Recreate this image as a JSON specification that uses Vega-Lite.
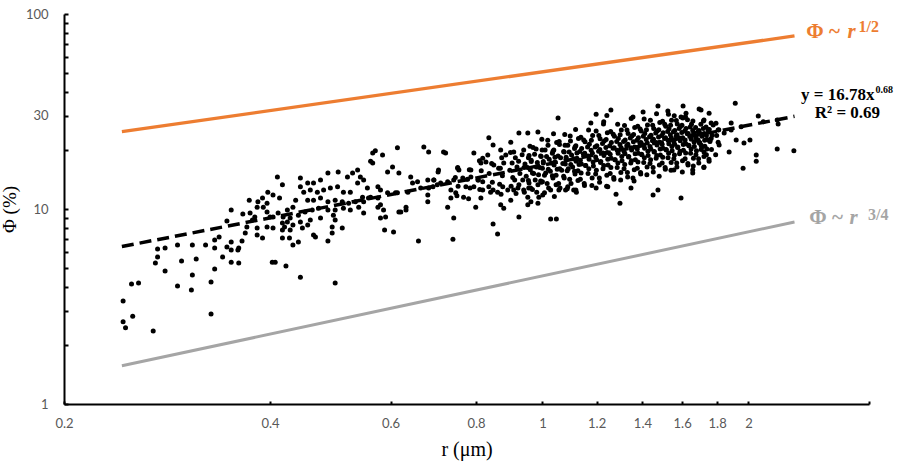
{
  "$schema": "https://vega.github.io/schema/vega-lite/v6.json",
  "width": 805,
  "height": 390,
  "autosize": {"type": "none"},
  "padding": {"left": 64, "top": 14, "right": 31, "bottom": 61},
  "background": "white",
  "config": {"view": {"stroke": null}},
  "encoding": {
    "x": {
      "field": "r", "type": "quantitative",
      "scale": {"type": "log", "domain": [0.2, 3]},
      "axis": {
        "values": [0.2, 0.4, 0.6, 0.8, 1, 1.2, 1.4, 1.6, 1.8, 2, 3],
        "labelExpr": "datum.value == 3 ? '' : datum.label",
        "format": "~g",
        "title": "r (μm)",
        "titleFont": "Liberation Serif", "titleFontSize": 20, "titleFontWeight": "normal", "titleColor": "black", "titlePadding": 9,
        "labelFont": "Lato", "labelFontSize": 13, "labelColor": "#595959", "labelPadding": 16,
        "labelFlush": false, "labelOverlap": false,
        "tickSize": -3, "tickWidth": 2, "tickColor": "black",
        "domainColor": "black", "domainWidth": 2, "grid": false
      }
    },
    "y": {
      "field": "phi", "type": "quantitative",
      "scale": {"type": "log", "domain": [1, 100]},
      "axis": {
        "values": [1, 2, 3, 4, 5, 6, 7, 8, 9, 10, 20, 30, 40, 50, 60, 70, 80, 90, 100],
        "labelExpr": "(datum.value == 1 || datum.value == 10 || datum.value == 30 || datum.value == 100) ? datum.label : ''",
        "format": "~g",
        "title": "Φ (%)",
        "titleFont": "Liberation Serif", "titleFontSize": 19, "titleFontWeight": "normal", "titleColor": "black", "titlePadding": 6,
        "labelFont": "Lato", "labelFontSize": 13, "labelColor": "#595959", "labelPadding": 20,
        "labelFlush": false, "labelOverlap": false,
        "tickSize": -4, "tickWidth": 2, "tickColor": "black",
        "domainColor": "black", "domainWidth": 2, "grid": false
      }
    }
  },
  "layer": [
    {
      "data": {"values": [
        {"r":0.243,"phi":24.9},{"r":2.335,"phi":77.2}
      ]},
      "mark": {"type": "line", "color": "#ED7D31", "strokeWidth": 3.3},
      "encoding": {}
    },
    {
      "data": {"values": [
        {"r":0.243,"phi":1.57},{"r":2.335,"phi":8.57}
      ]},
      "mark": {"type": "line", "color": "#A5A5A5", "strokeWidth": 3},
      "encoding": {}
    },
    {
      "data": {"values": [
{"r":0.244,"phi":3.37},{"r":0.244,"phi":2.64},{"r":0.246,"phi":2.46},{"r":0.252,"phi":2.82},{"r":0.251,"phi":4.12},{"r":0.257,"phi":4.17},{"r":0.270,"phi":2.37},{"r":0.272,"phi":5.28},{"r":0.274,"phi":5.67},{"r":0.274,"phi":6.23},{"r":0.281,"phi":6.31},{"r":0.281,"phi":4.81},{"r":0.293,"phi":6.53},{"r":0.293,"phi":4.03},{"r":0.297,"phi":5.41},{"r":0.308,"phi":6.53},{"r":0.308,"phi":4.59},{"r":0.307,"phi":3.84},{"r":0.312,"phi":5.54},{"r":0.322,"phi":6.53},{"r":0.328,"phi":4.22},{"r":0.328,"phi":2.89},{"r":0.332,"phi":4.93},{"r":0.332,"phi":6.31},{"r":0.332,"phi":6.93},{"r":0.337,"phi":7.18},{"r":0.341,"phi":5.67},{"r":0.346,"phi":6.39},{"r":0.346,"phi":8.68},{"r":0.351,"phi":9.88},{"r":0.351,"phi":6.77},{"r":0.351,"phi":5.34},{"r":0.351,"phi":6.16},{"r":0.359,"phi":6.16},{"r":0.360,"phi":5.28},{"r":0.360,"phi":6.31},{"r":0.364,"phi":6.85},{"r":0.368,"phi":7.53},{"r":0.373,"phi":11.1},{"r":0.370,"phi":8.08},{"r":0.365,"phi":9.42},{"r":0.374,"phi":9.53},{"r":0.383,"phi":10.2},{"r":0.384,"phi":10.9},{"r":0.390,"phi":11.4},{"r":0.391,"phi":10.2},{"r":0.396,"phi":10.7},{"r":0.397,"phi":12.2},{"r":0.404,"phi":11.8},{"r":0.410,"phi":14.6},{"r":0.417,"phi":13.3},{"r":0.413,"phi":11.4},{"r":0.383,"phi":7.35},{"r":0.390,"phi":7.10},{"r":0.396,"phi":8.08},{"r":0.404,"phi":7.99},{"r":0.404,"phi":9.10},{"r":0.411,"phi":9.53},{"r":0.417,"phi":8.47},{"r":0.417,"phi":7.10},{"r":0.424,"phi":8.57},{"r":0.403,"phi":5.34},{"r":0.407,"phi":5.34},{"r":0.422,"phi":5.10},{"r":0.380,"phi":9.10},{"r":0.377,"phi":8.78},{"r":0.396,"phi":9.65},{"r":0.400,"phi":9.10},{"r":0.383,"phi":7.99},
{"r":0.614,"phi":20.6},{"r":0.671,"phi":20.8},{"r":0.682,"phi":19.6},{"r":0.570,"phi":19.9},{"r":0.565,"phi":19.4},{"r":0.584,"phi":18.9},{"r":0.561,"phi":17.6},{"r":0.565,"phi":17.2},{"r":0.604,"phi":16.4},{"r":0.594,"phi":15.5},{"r":0.617,"phi":15.3},{"r":0.642,"phi":14.6},{"r":0.657,"phi":13.8},{"r":0.680,"phi":14.1},{"r":0.694,"phi":14.1},{"r":0.704,"phi":15.5},{"r":0.702,"phi":13.3},{"r":0.664,"phi":12.8},{"r":0.636,"phi":12.2},{"r":0.614,"phi":12.1},{"r":0.594,"phi":12.1},{"r":0.580,"phi":12.5},{"r":0.575,"phi":13.0},{"r":0.680,"phi":11.8},{"r":0.680,"phi":10.9},{"r":0.632,"phi":10.2},{"r":0.632,"phi":9.88},{"r":0.617,"phi":9.65},{"r":0.586,"phi":9.88},{"r":0.590,"phi":9.10},{"r":0.580,"phi":10.5},{"r":0.575,"phi":11.4},{"r":0.561,"phi":11.5},{"r":0.555,"phi":12.8},{"r":0.548,"phi":14.1},{"r":0.542,"phi":14.6},{"r":0.537,"phi":15.85},{"r":0.528,"phi":15.3},{"r":0.519,"phi":14.6},{"r":0.503,"phi":15.5},{"r":0.486,"phi":15.3},{"r":0.474,"phi":14.1},{"r":0.463,"phi":13.6},{"r":0.454,"phi":13.6},{"r":0.443,"phi":14.4},{"r":0.443,"phi":13.0},{"r":0.448,"phi":12.2},{"r":0.458,"phi":12.5},{"r":0.469,"phi":12.2},{"r":0.479,"phi":12.5},{"r":0.490,"phi":12.8},{"r":0.502,"phi":13.0},{"r":0.512,"phi":12.2},{"r":0.524,"phi":12.2},{"r":0.537,"phi":13.6},{"r":0.546,"phi":11.5},{"r":0.533,"phi":10.9},{"r":0.521,"phi":10.7},{"r":0.510,"phi":10.9},{"r":0.498,"phi":11.1},{"r":0.486,"phi":10.9},{"r":0.474,"phi":11.4},{"r":0.463,"phi":11.1},{"r":0.454,"phi":11.1},{"r":0.436,"phi":11.1},{"r":0.432,"phi":10.2},{"r":0.424,"phi":9.88},{"r":0.418,"phi":9.10},{"r":0.428,"phi":9.0},{"r":0.440,"phi":9.3},{"r":0.450,"phi":9.65},{"r":0.461,"phi":9.88},{"r":0.471,"phi":10.1},{"r":0.486,"phi":9.88},{"r":0.498,"phi":9.88},{"r":0.512,"phi":10.1},{"r":0.524,"phi":9.88},{"r":0.539,"phi":10.2},{"r":0.548,"phi":9.53},{"r":0.495,"phi":9.3},{"r":0.474,"phi":9.0},{"r":0.458,"phi":8.78},{"r":0.443,"phi":8.57},{"r":0.432,"phi":8.27},{"r":0.420,"phi":8.08},{"r":0.417,"phi":7.80},{"r":0.428,"phi":7.80},{"r":0.446,"phi":7.99},{"r":0.454,"phi":8.27},{"r":0.427,"phi":7.10},{"r":0.440,"phi":6.77},{"r":0.432,"phi":6.53},{"r":0.463,"phi":7.35},{"r":0.466,"phi":7.18},{"r":0.486,"phi":6.85},{"r":0.493,"phi":7.53},{"r":0.493,"phi":8.08},{"r":0.510,"phi":7.99},{"r":0.498,"phi":8.78},{"r":0.548,"phi":10.9},{"r":0.557,"phi":11.4},{"r":0.575,"phi":10.2},{"r":0.610,"phi":12.1},{"r":0.646,"phi":13.6},{"r":0.682,"phi":12.8},{"r":0.588,"phi":7.80},{"r":0.606,"phi":7.62},{"r":0.659,"phi":6.85},{"r":0.443,"phi":4.47},{"r":0.498,"phi":4.17},{"r":0.580,"phi":9.0},{"r":0.621,"phi":9.65},{"r":0.717,"phi":19.6},
{"r":1.054,"phi":29.3},{"r":0.924,"phi":24.5},{"r":0.952,"phi":24.5},{"r":0.985,"phi":24.8},{"r":0.835,"phi":23.2},{"r":0.847,"phi":21.3},{"r":0.899,"phi":22.0},{"r":0.722,"phi":19.4},{"r":0.794,"phi":19.4},{"r":0.818,"phi":18.2},{"r":0.832,"phi":18.9},{"r":0.869,"phi":20.1},{"r":0.884,"phi":18.9},{"r":0.908,"phi":19.6},{"r":0.705,"phi":15.85},{"r":0.752,"phi":16.2},{"r":0.755,"phi":15.85},{"r":0.786,"phi":15.85},{"r":0.813,"phi":17.2},{"r":0.827,"phi":17.4},{"r":0.849,"phi":16.8},{"r":0.863,"phi":16.2},{"r":0.878,"phi":17.2},{"r":0.694,"phi":14.1},{"r":0.710,"phi":13.6},{"r":0.727,"phi":13.8},{"r":0.742,"phi":14.1},{"r":0.765,"phi":14.4},{"r":0.786,"phi":14.6},{"r":0.805,"phi":14.1},{"r":0.818,"phi":13.8},{"r":0.692,"phi":13.0},{"r":0.735,"phi":12.5},{"r":0.747,"phi":12.1},{"r":0.767,"phi":11.5},{"r":0.773,"phi":13.0},{"r":0.794,"phi":13.0},{"r":0.818,"phi":12.5},{"r":0.835,"phi":13.0},{"r":0.847,"phi":12.5},{"r":0.860,"phi":12.2},{"r":0.875,"phi":13.0},{"r":0.890,"phi":12.5},{"r":0.908,"phi":12.5},{"r":0.924,"phi":13.3},{"r":0.939,"phi":12.5},{"r":0.955,"phi":12.8},{"r":0.735,"phi":11.4},{"r":0.813,"phi":11.4},{"r":0.899,"phi":11.1},{"r":0.727,"phi":10.2},{"r":0.799,"phi":10.2},{"r":0.869,"phi":10.5},{"r":0.878,"phi":10.1},{"r":0.952,"phi":11.5},{"r":0.962,"phi":10.9},{"r":0.985,"phi":10.7},{"r":0.988,"phi":11.5},{"r":0.952,"phi":10.5},{"r":1.028,"phi":12.5},{"r":1.057,"phi":12.5},{"r":1.089,"phi":13.0},{"r":1.119,"phi":12.5},{"r":0.985,"phi":13.3},{"r":1.000,"phi":13.8},{"r":0.742,"phi":9.0},{"r":0.924,"phi":9.1},{"r":0.847,"phi":8.37},{"r":0.860,"phi":7.44},{"r":1.028,"phi":8.88},{"r":1.048,"phi":8.88},{"r":0.740,"phi":7.0},
{"r":1.198,"phi":30.6},{"r":1.259,"phi":32.2},{"r":1.242,"phi":30.2},{"r":1.475,"phi":33.7},{"r":1.605,"phi":33.7},{"r":1.525,"phi":31.8},{"r":1.403,"phi":31.4},{"r":1.356,"phi":29.6},{"r":1.621,"phi":31.0},{"r":1.594,"phi":29.6},{"r":1.694,"phi":32.6},{"r":1.177,"phi":27.6},{"r":1.229,"phi":28.0},{"r":1.281,"phi":11.9},{"r":1.298,"phi":10.7},{"r":1.451,"phi":11.8},{"r":1.475,"phi":12.5},{"r":1.594,"phi":11.4},{"r":1.658,"phi":15.85},{"r":1.658,"phi":15.3},{"r":1.556,"phi":15.85},{"r":1.347,"phi":12.8},{"r":1.356,"phi":14.4},{"r":1.111,"phi":12.5},{"r":1.198,"phi":12.8},{"r":1.246,"phi":13.0},
{"r":1.913,"phi":34.9},{"r":1.705,"phi":32.2},{"r":1.752,"phi":31.0},{"r":2.067,"phi":30.0},{"r":1.722,"phi":28.6},{"r":1.776,"phi":27.0},{"r":1.887,"phi":27.6},{"r":2.102,"phi":28.0},{"r":2.203,"phi":28.6},{"r":2.21,"phi":27.3},{"r":1.666,"phi":24.5},{"r":1.694,"phi":24.8},{"r":1.746,"phi":25.4},{"r":1.806,"phi":25.4},{"r":1.843,"phi":24.5},{"r":1.887,"phi":25.4},{"r":1.919,"phi":22.6},{"r":1.970,"phi":21.8},{"r":2.01,"phi":22.6},{"r":1.874,"phi":19.6},{"r":2.053,"phi":18.9},{"r":2.053,"phi":17.6},{"r":2.203,"phi":20.3},{"r":2.33,"phi":19.9},{"r":1.964,"phi":16.2},{"r":1.722,"phi":16.4},{"r":1.722,"phi":19.6},{"r":1.705,"phi":21.3},{"r":1.812,"phi":21.3},{"r":1.764,"phi":23.0},{"r":1.688,"phi":22.6},{"r":1.951,"phi":26.4},
{"r":0.75,"phi":11.7},{"r":0.753,"phi":13.1},{"r":0.746,"phi":14.5},{"r":0.752,"phi":16.3},{"r":0.78,"phi":11.3},{"r":0.784,"phi":12.8},{"r":0.777,"phi":14.2},{"r":0.782,"phi":15.9},{"r":0.81,"phi":12.6},{"r":0.806,"phi":14.1},{"r":0.814,"phi":15.7},{"r":0.809,"phi":17.7},{"r":0.84,"phi":12.2},{"r":0.845,"phi":13.7},{"r":0.836,"phi":15.2},{"r":0.843,"phi":17.1},{"r":0.87,"phi":11.9},{"r":0.866,"phi":13.4},{"r":0.874,"phi":14.8},{"r":0.868,"phi":16.2},{"r":0.872,"phi":18.3},{"r":0.90,"phi":13.1},{"r":0.905,"phi":14.5},{"r":0.896,"phi":15.8},{"r":0.903,"phi":17.2},{"r":0.898,"phi":19.5},{"r":0.915,"phi":12.0},{"r":0.911,"phi":14.1},{"r":0.918,"phi":16.4},{"r":0.913,"phi":18.3},
{"r":0.921,"phi":12.8},{"r":0.936,"phi":14.1},{"r":0.927,"phi":15.2},{"r":0.94,"phi":16.3},{"r":0.923,"phi":17.6},{"r":0.934,"phi":19.0},
{"r":0.941,"phi":12.2},{"r":0.956,"phi":13.6},{"r":0.947,"phi":14.7},{"r":0.96,"phi":15.9},{"r":0.943,"phi":17.0},{"r":0.954,"phi":18.3},{"r":0.939,"phi":20.1},
{"r":0.961,"phi":12.8},{"r":0.976,"phi":14.1},{"r":0.967,"phi":15.3},{"r":0.98,"phi":16.4},{"r":0.963,"phi":17.8},{"r":0.974,"phi":19.1},{"r":0.959,"phi":21.0},
{"r":0.981,"phi":12.2},{"r":0.996,"phi":13.7},{"r":0.987,"phi":15.0},{"r":1.0,"phi":16.2},{"r":0.983,"phi":17.3},{"r":0.994,"phi":18.7},{"r":0.979,"phi":20.3},{"r":0.998,"phi":22.8},
{"r":1.001,"phi":11.8},{"r":1.016,"phi":13.5},{"r":1.007,"phi":14.9},{"r":1.02,"phi":16.0},{"r":1.003,"phi":17.2},{"r":1.014,"phi":18.6},{"r":0.999,"phi":20.1},{"r":1.018,"phi":22.5},
{"r":1.021,"phi":12.8},{"r":1.036,"phi":14.4},{"r":1.027,"phi":15.6},{"r":1.04,"phi":16.8},{"r":1.023,"phi":18.0},{"r":1.034,"phi":19.3},{"r":1.019,"phi":21.2},{"r":1.038,"phi":24.3},
{"r":1.041,"phi":11.6},{"r":1.056,"phi":13.5},{"r":1.047,"phi":14.9},{"r":1.06,"phi":16.1},{"r":1.043,"phi":17.4},{"r":1.054,"phi":18.7},{"r":1.039,"phi":20.1},{"r":1.058,"phi":22.2},
{"r":1.061,"phi":12.8},{"r":1.076,"phi":14.4},{"r":1.067,"phi":15.8},{"r":1.08,"phi":17.0},{"r":1.063,"phi":18.3},{"r":1.074,"phi":19.7},{"r":1.059,"phi":21.4},{"r":1.078,"phi":24.1},
{"r":1.081,"phi":12.5},{"r":1.096,"phi":14.2},{"r":1.087,"phi":15.7},{"r":1.1,"phi":16.9},{"r":1.083,"phi":18.1},{"r":1.094,"phi":19.6},{"r":1.079,"phi":21.2},{"r":1.098,"phi":23.7},
{"r":1.101,"phi":13.5},{"r":1.116,"phi":15.1},{"r":1.107,"phi":16.4},{"r":1.12,"phi":17.6},{"r":1.103,"phi":18.9},{"r":1.114,"phi":20.4},{"r":1.099,"phi":22.3},{"r":1.118,"phi":25.6},
{"r":1.121,"phi":12.2},{"r":1.136,"phi":14.2},{"r":1.127,"phi":15.7},{"r":1.14,"phi":17.0},{"r":1.123,"phi":18.2},{"r":1.134,"phi":19.7},{"r":1.119,"phi":21.1},{"r":1.138,"phi":23.3},
{"r":1.151,"phi":13.5},{"r":1.166,"phi":15.2},{"r":1.157,"phi":16.7},{"r":1.17,"phi":18.0},{"r":1.153,"phi":19.3},{"r":1.164,"phi":20.8},{"r":1.149,"phi":22.6},{"r":1.168,"phi":25.4},
{"r":1.181,"phi":13.2},{"r":1.196,"phi":15.1},{"r":1.187,"phi":16.6},{"r":1.2,"phi":17.9},{"r":1.183,"phi":19.3},{"r":1.194,"phi":20.8},{"r":1.179,"phi":22.5},{"r":1.198,"phi":25.1},
{"r":1.211,"phi":14.4},{"r":1.226,"phi":16.1},{"r":1.217,"phi":17.5},{"r":1.23,"phi":18.8},{"r":1.213,"phi":20.2},{"r":1.224,"phi":21.7},{"r":1.209,"phi":23.8},{"r":1.228,"phi":27.3},
{"r":1.241,"phi":13.1},{"r":1.256,"phi":15.2},{"r":1.247,"phi":16.8},{"r":1.26,"phi":18.2},{"r":1.243,"phi":19.5},{"r":1.254,"phi":21.1},{"r":1.239,"phi":22.7},{"r":1.258,"phi":25.0},
{"r":1.271,"phi":14.5},{"r":1.286,"phi":16.3},{"r":1.277,"phi":17.9},{"r":1.29,"phi":19.3},{"r":1.273,"phi":20.6},{"r":1.284,"phi":22.2},{"r":1.269,"phi":24.2},{"r":1.288,"phi":27.2},
{"r":1.301,"phi":14.1},{"r":1.316,"phi":16.1},{"r":1.307,"phi":17.7},{"r":1.32,"phi":19.2},{"r":1.303,"phi":20.6},{"r":1.314,"phi":22.2},{"r":1.299,"phi":24.0},{"r":1.318,"phi":26.8},
{"r":1.331,"phi":15.4},{"r":1.346,"phi":17.2},{"r":1.337,"phi":18.6},{"r":1.35,"phi":20.1},{"r":1.333,"phi":21.5},{"r":1.344,"phi":23.1},{"r":1.329,"phi":25.4},{"r":1.348,"phi":29.1},
{"r":1.361,"phi":13.9},{"r":1.376,"phi":16.2},{"r":1.367,"phi":17.9},{"r":1.38,"phi":19.3},{"r":1.363,"phi":20.8},{"r":1.374,"phi":22.5},{"r":1.359,"phi":24.1},{"r":1.378,"phi":26.6},
{"r":1.391,"phi":15.4},{"r":1.406,"phi":17.3},{"r":1.397,"phi":19.0},{"r":1.41,"phi":20.5},{"r":1.393,"phi":21.9},{"r":1.404,"phi":23.6},{"r":1.389,"phi":25.7},{"r":1.408,"phi":28.9},
{"r":1.421,"phi":15.0},{"r":1.436,"phi":17.1},{"r":1.427,"phi":18.8},{"r":1.44,"phi":20.3},{"r":1.423,"phi":21.8},{"r":1.434,"phi":23.5},{"r":1.419,"phi":25.5},{"r":1.438,"phi":28.5},
{"r":1.451,"phi":16.3},{"r":1.466,"phi":18.2},{"r":1.457,"phi":19.7},{"r":1.47,"phi":21.3},{"r":1.453,"phi":22.8},{"r":1.464,"phi":24.5},{"r":1.449,"phi":26.9},{"r":1.468,"phi":30.8},
{"r":1.481,"phi":14.7},{"r":1.496,"phi":17.2},{"r":1.487,"phi":18.9},{"r":1.5,"phi":20.5},{"r":1.483,"phi":22.0},{"r":1.494,"phi":23.8},{"r":1.479,"phi":25.5},{"r":1.498,"phi":28.2},
{"r":1.511,"phi":16.3},{"r":1.526,"phi":18.3},{"r":1.517,"phi":20.1},{"r":1.53,"phi":21.6},{"r":1.513,"phi":23.2},{"r":1.524,"phi":25.0},{"r":1.509,"phi":27.2},{"r":1.528,"phi":30.6},
{"r":1.541,"phi":15.8},{"r":1.556,"phi":18.1},{"r":1.547,"phi":19.9},{"r":1.56,"phi":21.5},{"r":1.543,"phi":23.1},{"r":1.554,"phi":24.9},{"r":1.539,"phi":26.9},{"r":1.558,"phi":30.1},
{"r":1.571,"phi":17.2},{"r":1.586,"phi":19.2},{"r":1.577,"phi":20.8},{"r":1.59,"phi":22.4},{"r":1.573,"phi":24.0},{"r":1.584,"phi":25.9},{"r":1.569,"phi":28.4},
{"r":1.601,"phi":15.5},{"r":1.616,"phi":18.1},{"r":1.607,"phi":20.0},{"r":1.62,"phi":21.6},{"r":1.603,"phi":23.2},{"r":1.614,"phi":25.1},{"r":1.599,"phi":26.9},{"r":1.618,"phi":29.7},
{"r":1.631,"phi":17.1},{"r":1.646,"phi":19.3},{"r":1.637,"phi":21.1},{"r":1.65,"phi":22.8},{"r":1.633,"phi":24.4},{"r":1.644,"phi":26.3},{"r":1.629,"phi":28.7},
{"r":1.661,"phi":16.6},{"r":1.676,"phi":19.0},{"r":1.667,"phi":20.9},{"r":1.68,"phi":22.6},{"r":1.663,"phi":24.3},{"r":1.674,"phi":26.2},{"r":1.659,"phi":28.3},
{"r":1.691,"phi":18.1},{"r":1.706,"phi":20.2},{"r":1.697,"phi":21.9},{"r":1.71,"phi":23.6},{"r":1.693,"phi":25.3},{"r":1.704,"phi":27.2},
{"r":1.721,"phi":16.3},{"r":1.736,"phi":19.0},{"r":1.727,"phi":21.0},{"r":1.74,"phi":22.7},{"r":1.723,"phi":24.4},{"r":1.734,"phi":26.3},{"r":1.719,"phi":28.3},
{"r":1.751,"phi":18.0},{"r":1.766,"phi":20.2},{"r":1.757,"phi":22.2},{"r":1.77,"phi":23.9},{"r":1.753,"phi":25.6},{"r":1.764,"phi":27.6},
{"r":1.791,"phi":19.0},{"r":1.806,"phi":22.0},{"r":1.797,"phi":23.8},{"r":1.81,"phi":25.5},{"r":1.793,"phi":27.5},
{"r":0.967,"phi":12.6},{"r":0.954,"phi":14.0},{"r":0.971,"phi":15.2},{"r":0.951,"phi":16.3},{"r":0.963,"phi":17.5},{"r":0.956,"phi":18.8},{"r":0.969,"phi":20.7},
{"r":1.007,"phi":12.1},{"r":0.994,"phi":13.9},{"r":1.011,"phi":15.3},{"r":0.991,"phi":16.3},{"r":1.003,"phi":17.5},{"r":0.996,"phi":18.6},{"r":1.009,"phi":20.1},
{"r":1.047,"phi":13.3},{"r":1.034,"phi":14.8},{"r":1.051,"phi":16.0},{"r":1.031,"phi":17.2},{"r":1.043,"phi":18.4},{"r":1.036,"phi":19.8},{"r":1.049,"phi":21.9},
{"r":1.087,"phi":12.7},{"r":1.074,"phi":14.7},{"r":1.091,"phi":16.1},{"r":1.071,"phi":17.1},{"r":1.083,"phi":18.4},{"r":1.076,"phi":19.6},{"r":1.089,"phi":21.2},
{"r":1.127,"phi":14.0},{"r":1.114,"phi":15.6},{"r":1.131,"phi":16.9},{"r":1.111,"phi":18.1},{"r":1.123,"phi":19.4},{"r":1.116,"phi":20.8},{"r":1.129,"phi":23.0},
{"r":1.152,"phi":13.2},{"r":1.139,"phi":15.3},{"r":1.156,"phi":16.7},{"r":1.136,"phi":17.8},{"r":1.148,"phi":19.1},{"r":1.141,"phi":20.4},{"r":1.154,"phi":22.1},
{"r":1.182,"phi":14.4},{"r":1.169,"phi":16.1},{"r":1.186,"phi":17.4},{"r":1.166,"phi":18.7},{"r":1.178,"phi":20.0},{"r":1.171,"phi":21.5},{"r":1.184,"phi":23.8},
{"r":1.212,"phi":13.7},{"r":1.199,"phi":15.8},{"r":1.216,"phi":17.3},{"r":1.196,"phi":18.5},{"r":1.208,"phi":19.8},{"r":1.201,"phi":21.1},{"r":1.214,"phi":22.9},
{"r":1.242,"phi":14.9},{"r":1.229,"phi":16.7},{"r":1.246,"phi":18.0},{"r":1.226,"phi":19.4},{"r":1.238,"phi":20.7},{"r":1.231,"phi":22.3},{"r":1.244,"phi":24.6},
{"r":1.272,"phi":14.2},{"r":1.259,"phi":16.3},{"r":1.276,"phi":17.9},{"r":1.256,"phi":19.1},{"r":1.268,"phi":20.5},{"r":1.261,"phi":21.9},{"r":1.274,"phi":23.6},
{"r":1.302,"phi":15.4},{"r":1.289,"phi":17.2},{"r":1.306,"phi":18.6},{"r":1.286,"phi":20.0},{"r":1.298,"phi":21.4},{"r":1.291,"phi":23.0},{"r":1.304,"phi":25.4},
{"r":1.332,"phi":14.6},{"r":1.319,"phi":16.9},{"r":1.336,"phi":18.5},{"r":1.316,"phi":19.7},{"r":1.328,"phi":21.1},{"r":1.321,"phi":22.6},{"r":1.334,"phi":24.4},
{"r":1.362,"phi":15.9},{"r":1.349,"phi":17.7},{"r":1.366,"phi":19.2},{"r":1.346,"phi":20.6},{"r":1.358,"phi":22.1},{"r":1.351,"phi":23.7},{"r":1.364,"phi":26.2},
{"r":1.392,"phi":15.1},{"r":1.379,"phi":17.4},{"r":1.396,"phi":19.1},{"r":1.376,"phi":20.3},{"r":1.388,"phi":21.8},{"r":1.381,"phi":23.2},{"r":1.394,"phi":25.1},
{"r":1.422,"phi":16.4},{"r":1.409,"phi":18.3},{"r":1.426,"phi":19.8},{"r":1.406,"phi":21.3},{"r":1.418,"phi":22.7},{"r":1.411,"phi":24.4},{"r":1.424,"phi":27.0},
{"r":1.452,"phi":15.5},{"r":1.439,"phi":17.9},{"r":1.456,"phi":19.6},{"r":1.436,"phi":20.9},{"r":1.448,"phi":22.4},{"r":1.441,"phi":23.9},{"r":1.454,"phi":25.9},
{"r":1.482,"phi":16.8},{"r":1.469,"phi":18.8},{"r":1.486,"phi":20.3},{"r":1.466,"phi":21.9},{"r":1.478,"phi":23.4},{"r":1.471,"phi":25.1},{"r":1.484,"phi":27.8},
{"r":1.512,"phi":16.0},{"r":1.499,"phi":18.4},{"r":1.516,"phi":20.2},{"r":1.496,"phi":21.5},{"r":1.508,"phi":23.0},{"r":1.501,"phi":24.6},{"r":1.514,"phi":26.6},
{"r":1.542,"phi":17.3},{"r":1.529,"phi":19.3},{"r":1.546,"phi":20.9},{"r":1.526,"phi":22.5},{"r":1.538,"phi":24.0},{"r":1.531,"phi":25.8},{"r":1.544,"phi":28.5},
{"r":1.572,"phi":16.4},{"r":1.559,"phi":18.9},{"r":1.576,"phi":20.7},{"r":1.556,"phi":22.1},{"r":1.568,"phi":23.7},{"r":1.561,"phi":25.3},{"r":1.574,"phi":27.3},
{"r":1.602,"phi":17.7},{"r":1.589,"phi":19.8},{"r":1.606,"phi":21.4},{"r":1.586,"phi":23.1},{"r":1.598,"phi":24.7},{"r":1.591,"phi":26.5},{"r":1.604,"phi":29.3},
{"r":1.632,"phi":16.8},{"r":1.619,"phi":19.4},{"r":1.636,"phi":21.2},{"r":1.616,"phi":22.6},{"r":1.628,"phi":24.3},{"r":1.621,"phi":25.9},
{"r":1.662,"phi":18.2},{"r":1.649,"phi":20.3},{"r":1.666,"phi":22.0},{"r":1.646,"phi":23.6},{"r":1.658,"phi":25.3},{"r":1.651,"phi":27.2},
{"r":1.692,"phi":17.2},{"r":1.679,"phi":19.9},{"r":1.696,"phi":21.8},{"r":1.676,"phi":23.2},{"r":1.688,"phi":24.9},
{"r":1.722,"phi":18.6},{"r":1.709,"phi":20.8},{"r":1.726,"phi":22.5},{"r":1.706,"phi":24.2},{"r":1.718,"phi":25.9},
{"r":1.752,"phi":17.6},{"r":1.739,"phi":20.3},{"r":1.756,"phi":22.3},{"r":1.736,"phi":23.8},{"r":1.748,"phi":25.5}
      ]},
      "mark": {"type": "circle", "size": 25, "color": "black", "opacity": 1},
      "encoding": {}
    },
    {
      "data": {"values": [
        {"r":0.243,"phi":6.42},{"r":2.335,"phi":29.87}
      ]},
      "mark": {"type": "line", "color": "black", "strokeWidth": 3.5, "strokeDash": [12, 6]},
      "encoding": {}
    },
    {
      "data": {"values": [{"r":2.43,"phi":81.2,"label":"Φ ~"}]},
      "mark": {"type": "text", "align": "left", "baseline": "middle", "font": "Liberation Serif", "fontSize": 21, "fontWeight": "bold", "color": "#ED7D31"},
      "encoding": {"text": {"field": "label"}}
    },
    {
      "data": {"values": [{"r":2.79,"phi":81.2,"label":"r"}]},
      "mark": {"type": "text", "align": "left", "baseline": "middle", "font": "Liberation Serif", "fontSize": 21, "fontWeight": "bold", "fontStyle": "italic", "color": "#ED7D31"},
      "encoding": {"text": {"field": "label"}}
    },
    {
      "data": {"values": [{"r":2.896,"phi":86.1,"label":"1/2"}]},
      "mark": {"type": "text", "align": "left", "baseline": "middle", "font": "Liberation Serif", "fontSize": 16, "fontWeight": "bold", "color": "#ED7D31"},
      "encoding": {"text": {"field": "label"}}
    },
    {
      "data": {"values": [{"r":2.454,"phi":8.99,"label":"Φ ~"}]},
      "mark": {"type": "text", "align": "left", "baseline": "middle", "font": "Liberation Serif", "fontSize": 21, "fontWeight": "bold", "color": "#A5A5A5"},
      "encoding": {"text": {"field": "label"}}
    },
    {
      "data": {"values": [{"r":2.81,"phi":8.99,"label":"r"}]},
      "mark": {"type": "text", "align": "left", "baseline": "middle", "font": "Liberation Serif", "fontSize": 21, "fontWeight": "bold", "fontStyle": "italic", "color": "#A5A5A5"},
      "encoding": {"text": {"field": "label"}}
    },
    {
      "data": {"values": [{"r":2.99,"phi":9.31,"label":"3/4"}]},
      "mark": {"type": "text", "align": "left", "baseline": "middle", "font": "Liberation Serif", "fontSize": 16, "fontWeight": "bold", "color": "#A5A5A5"},
      "encoding": {"text": {"field": "label"}}
    },
    {
      "data": {"values": [{"r":3.056,"phi":38.4,"label":"y = 16.78x"}]},
      "mark": {"type": "text", "align": "right", "baseline": "middle", "font": "Liberation Serif", "fontSize": 17, "fontWeight": "bold", "color": "black"},
      "encoding": {"text": {"field": "label"}}
    },
    {
      "data": {"values": [{"r":3.056,"phi":40.8,"label":"0.68"}]},
      "mark": {"type": "text", "align": "left", "baseline": "middle", "dx": 1, "font": "Liberation Serif", "fontSize": 10, "fontWeight": "bold", "color": "black"},
      "encoding": {"text": {"field": "label"}}
    },
    {
      "data": {"values": [{"r":2.79,"phi":31.1,"label":"R² = 0.69"}]},
      "mark": {"type": "text", "align": "center", "baseline": "middle", "font": "Liberation Serif", "fontSize": 17, "fontWeight": "bold", "color": "black"},
      "encoding": {"text": {"field": "label"}}
    }
  ]
}
